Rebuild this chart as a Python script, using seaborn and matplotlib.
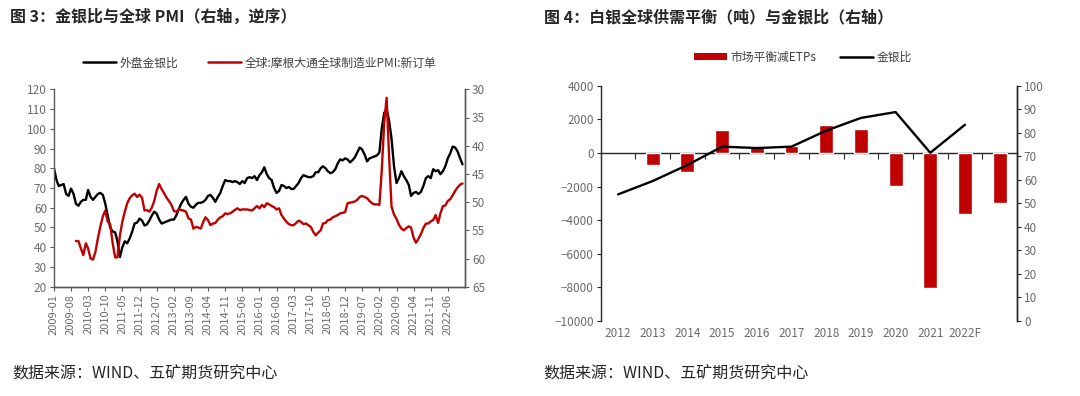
import numpy as np
import pandas as pd
import matplotlib
matplotlib.use('Agg')
import matplotlib.pyplot as plt
import matplotlib.dates as mdates
import seaborn as sns
from matplotlib.lines import Line2D
from matplotlib.patches import Patch

# ---------------- data: chart 3 ----------------
ratio_start = '2009-01-01'
gold_silver_ratio = [
    80, 74, 71, 71.5, 72, 67, 66, 69.7, 67, 62, 61, 63,
    64, 64, 69, 65.5, 64, 65.5, 67, 67.5, 66.5, 62, 56, 50,
    48, 47.5, 43, 35, 40, 43, 42, 44.5, 48, 52, 52.5, 54.5,
    53.5, 51, 51.5, 53.5, 56, 58, 57, 54, 52, 52.5, 53, 53.5,
    54, 54, 56, 59, 62, 64, 65.5, 62, 60.5, 60, 61.5, 62.5,
    62.5, 63, 64, 66, 66.5, 65, 63, 65.5, 67.5, 71, 74, 73.5,
    73.5, 73, 73.5, 73, 72, 73.5, 72.5, 75, 75.5, 75, 76, 74,
    76.5, 78, 80.5, 77, 75, 74, 70, 67.5, 68.5, 71.5, 71, 70,
    70.5, 69.5, 69.5, 71, 72.5, 75, 76.5, 76, 75.5, 75.5, 76, 78,
    78, 80, 81, 80, 78.5, 77.5, 78, 79.5, 82.5, 84.5, 84, 85,
    84.5, 83, 84, 85.5, 88, 90.5, 89.5, 87, 83.5, 85, 85.5, 86,
    86.5, 88, 100, 108, 110, 104, 95, 81, 72.5, 75, 78.5, 76,
    74, 71.5, 66, 67.5, 68, 67, 68, 71, 75, 76, 75, 79.5,
    78.5, 79, 77, 78.5, 81, 85, 87.5, 91, 90.5, 88.5, 85, 82,
]
pmi_start = '2009-10-01'
pmi_new_orders = [
    56.9, 56.9, 58.2, 59.4, 57.3, 58.2, 60.0, 60.2, 58.8, 56.4, 54.3, 52.5,
    51.5, 53.5, 53.9, 57.3, 59.8, 59.8, 55.9, 53.5, 51.7, 50.2, 49.3, 48.8,
    48.5, 49.1, 48.7, 49.2, 51.5, 51.4, 51.7, 51.0, 49.8, 48.0, 46.8, 47.7,
    48.4, 49.2, 49.8, 50.5, 51.6, 51.7, 51.3, 51.4, 51.5, 51.7, 52.9, 53.1,
    54.7, 54.4, 54.5, 54.7, 53.5, 52.7, 53.2, 54.1, 53.8, 53.7, 53.1, 52.7,
    52.5, 52.0, 52.1, 52.0, 51.7, 51.4, 51.1, 51.4, 51.3, 51.3, 51.3, 51.4,
    51.5, 51.1, 50.7, 51.1, 50.5, 50.9, 50.2, 50.4, 50.7, 50.9, 51.3, 51.1,
    52.3, 52.9, 53.5, 53.9, 54.1, 54.1, 53.7, 53.3, 53.5, 53.9, 53.8, 54.1,
    54.4, 55.3, 55.9, 55.4, 55.0, 53.8, 53.7, 53.2, 53.1, 52.7, 52.5, 52.3,
    52.0, 51.9, 51.8, 50.2, 50.1, 50.0, 49.9, 49.6, 49.1, 48.9, 49.1, 49.3,
    49.8, 50.2, 50.4, 50.4, 50.5, 44.5, 36.0, 31.5, 42.0, 50.8, 52.2, 53.0,
    54.0, 54.7, 55.0, 54.6, 54.3, 54.5, 56.3, 57.2, 56.5, 55.7, 54.6, 53.8,
    53.8, 53.4, 53.2, 52.3, 53.7, 52.0, 50.7, 50.6, 49.8, 49.5, 48.8, 48.0,
    47.4, 46.9, 46.7,
]
left_labels = ['外盘金银比', '全球:摩根大通全球制造业PMI:新订单']

# ---------------- data: chart 4 ----------------
years = ['2012', '2013', '2014', '2015', '2016', '2017', '2018', '2019',
         '2020', '2021', '2022F', ' ']
balance_ex_etps = [np.nan, -730, -1130, 1370, 380, 420, 1650, 1450,
                   -1950, -8010, -3610, -3000]
ratio_yearly = [53.8, 59.5, 66.3, 74.1, 73.5, 74.1, 80.9, 86.3, 88.8, 71.5, 83.4]
right_labels = ['市场平衡减ETPs', '金银比']

# ---------------- style ----------------
sns.set_theme(style='ticks')
plt.rcParams['font.family'] = ['Noto Sans CJK SC', 'DejaVu Sans']
plt.rcParams['axes.unicode_minus'] = True

RED = '#C00000'
TICKC = '#6b6b6b'
SPINEC = '#5a5a5a'
TEXTC = '#262626'

fig = plt.figure(figsize=(10.8, 3.96), dpi=100)

# ================= chart 3 =================
ratio_dates = pd.date_range(ratio_start, periods=len(gold_silver_ratio), freq='MS')
pmi_dates = pd.date_range(pmi_start, periods=len(pmi_new_orders), freq='MS')
df_ratio = pd.DataFrame({'date': ratio_dates, 'v': gold_silver_ratio})
df_pmi = pd.DataFrame({'date': pmi_dates, 'v': pmi_new_orders})

ax1 = fig.add_axes([54/1080, 1-286.7/396, (465-54)/1080, (286.7-89.3)/396])
ax1r = ax1.twinx()
sns.lineplot(data=df_ratio, x='date', y='v', ax=ax1, color='black', lw=1.7)
sns.lineplot(data=df_pmi, x='date', y='v', ax=ax1r, color=RED, lw=1.7)
ax1.set_ylim(20, 120)
ax1.set_yticks(np.arange(20, 121, 10))
ax1r.set_ylim(65, 30)
ax1r.set_yticks(np.arange(30, 66, 5))
ax1.set_xlim(pd.Timestamp('2009-01-01'), pd.Timestamp('2023-01-01'))
tick_dates = ratio_dates[:162:7]
ax1.set_xticks(tick_dates)
ax1.set_xticklabels([d.strftime('%Y-%m') for d in tick_dates], rotation=90)
for a in (ax1, ax1r):
    a.set_xlabel('')
    a.set_ylabel('')
    a.spines['top'].set_visible(False)
    for s in ('left', 'right', 'bottom'):
        a.spines[s].set_color(SPINEC)
        a.spines[s].set_linewidth(1.0)
    a.tick_params(axis='both', colors=SPINEC, labelcolor=TICKC, labelsize=8.5,
                  length=3, width=0.8, direction='out', pad=2)
ax1.tick_params(axis='x', labelsize=8)
ax1r.spines['left'].set_visible(False)

h1 = [Line2D([], [], color='black', lw=1.8), Line2D([], [], color=RED, lw=1.8)]
fig.legend(h1, left_labels, loc='center', bbox_to_anchor=(260/1080, 1-63/396),
           ncol=2, frameon=False, fontsize=8.5, handlelength=2.8, columnspacing=2.5,
           handletextpad=0.3, labelcolor='#404040')

# ================= chart 4 =================
ax2 = fig.add_axes([600.7/1080, 1-321/396, (1017-600.7)/1080, (321-85.7)/396])
ax2r = ax2.twinx()
sns.barplot(x=years, y=balance_ex_etps, order=years, color=RED, saturation=1,
            width=0.4, errorbar=None, ax=ax2)
sns.lineplot(x=np.arange(len(ratio_yearly)), y=ratio_yearly, ax=ax2r,
             color='black', lw=1.7)
ymin, ymax = -10000, 4000
ax2.set_ylim(ymin, ymax)
ax2.set_yticks(np.arange(ymin, ymax + 1, 2000))
ax2.set_xlim(-0.5, len(years) - 0.5)
ax2r.set_ylim(0, 100)
ax2r.set_yticks(np.arange(0, 101, 10))
for a in (ax2, ax2r):
    a.set_xlabel('')
    a.set_ylabel('')
    a.spines['top'].set_visible(False)
    a.spines['bottom'].set_visible(False)
    for s in ('left', 'right'):
        a.spines[s].set_color('#262626')
        a.spines[s].set_linewidth(1.0)
    a.tick_params(axis='both', colors='#262626', labelcolor=TICKC, labelsize=8.5,
                  length=3, width=0.8, direction='out', pad=2)
ax2.tick_params(axis='x', length=0, pad=4, labelsize=8.5)
ax2r.spines['left'].set_visible(False)

# zero line with category-boundary ticks
zero_frac = (0 - ymin) / (ymax - ymin)
sec = ax2.secondary_xaxis(zero_frac)
sec.set_alignment('bottom')
sec.set_xticks(np.arange(-0.5, len(years), 1.0))
sec.tick_params(axis='x', which='both', direction='out', length=4, width=0.8,
                color='#262626', labelbottom=False, labeltop=False)
sec.spines['bottom'].set_color('#262626')
sec.spines['bottom'].set_linewidth(1.0)

h2 = [Patch(facecolor=RED, edgecolor='none'), Line2D([], [], color='black', lw=1.8)]
fig.legend(h2, right_labels, loc='center', bbox_to_anchor=(803/1080, 1-57/396),
           ncol=2, frameon=False, fontsize=8.5, handlelength=2.8, handleheight=0.6,
           columnspacing=2.0, handletextpad=0.3, labelcolor='#404040')

# ================= titles & sources =================
fig.text(10/1080, 1-17/396, '图 3：金银比与全球 PMI（右轴，逆序）', fontsize=11.5,
         fontweight='bold', color=TEXTC, va='center', ha='left')
fig.text(544/1080, 1-17/396, '图 4：白银全球供需平衡（吨）与金银比（右轴）', fontsize=11.5,
         fontweight='bold', color=TEXTC, va='center', ha='left')
fig.text(12/1080, 1-374/396, '数据来源：WIND、五矿期货研究中心', fontsize=11.5,
         color=TEXTC, va='center', ha='left')
fig.text(543/1080, 1-374/396, '数据来源：WIND、五矿期货研究中心', fontsize=11.5,
         color=TEXTC, va='center', ha='left')

fig.savefig('out.png', dpi=100)
